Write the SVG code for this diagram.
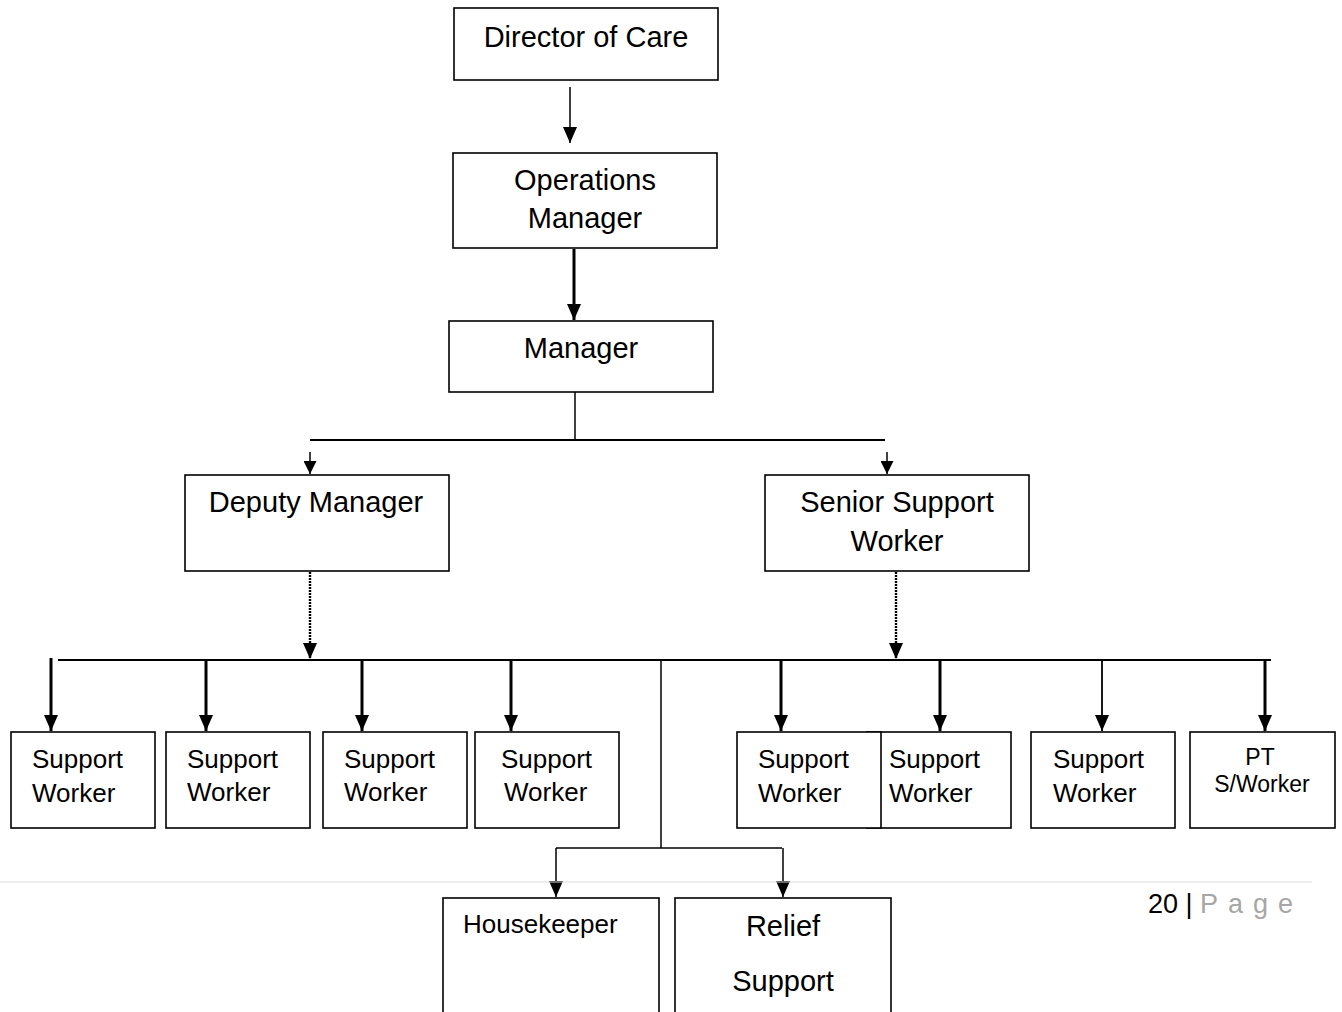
<svg xmlns="http://www.w3.org/2000/svg" width="1342" height="1012" viewBox="0 0 1342 1012">
<defs>
<style>
.box{fill:#fff;stroke:#000;stroke-width:1.6}
.t{font-family:"Liberation Sans",Arial,sans-serif;fill:#000}
.big{font-size:29px}
.sw{font-size:26px}
.c{stroke:#000;fill:none}
</style>
<marker id="ah" viewBox="0 0 16 14" refX="16" refY="7" markerWidth="16" markerHeight="14" markerUnits="userSpaceOnUse" orient="auto">
<path d="M0,0 L16,7 L0,14 z" fill="#000"/>
</marker>
<marker id="ahs" viewBox="0 0 13 13" refX="13" refY="6.5" markerWidth="13" markerHeight="13" markerUnits="userSpaceOnUse" orient="auto">
<path d="M0,0 L13,6.5 L0,13 z" fill="#000"/>
</marker>
</defs>
<rect width="1342" height="1012" fill="#fff"/>

<g id="connectors">
<line class="c" x1="570" y1="87" x2="570" y2="143" stroke-width="1.5" marker-end="url(#ah)"/>
<line class="c" x1="574" y1="249" x2="574" y2="320" stroke-width="3" marker-end="url(#ah)"/>
<line class="c" x1="575" y1="392" x2="575" y2="440" stroke-width="1.5"/>
<line class="c" x1="310" y1="440" x2="885" y2="440" stroke-width="2"/>
<line class="c" x1="310" y1="452" x2="310" y2="474" stroke-width="1.5" marker-end="url(#ahs)"/>
<line class="c" x1="887" y1="452" x2="887" y2="474" stroke-width="1.5" marker-end="url(#ahs)"/>
<line class="c" x1="310" y1="572" x2="310" y2="659" stroke-width="2.4" stroke-dasharray="2,1" marker-end="url(#ah)"/>
<line class="c" x1="896" y1="572" x2="896" y2="659" stroke-width="2.4" stroke-dasharray="2,1" marker-end="url(#ah)"/>
<line class="c" x1="58" y1="660" x2="1271" y2="660" stroke-width="2"/>
<line class="c" x1="51" y1="658" x2="51" y2="731" stroke-width="3" marker-end="url(#ah)"/>
<line class="c" x1="206" y1="660" x2="206" y2="731" stroke-width="3" marker-end="url(#ah)"/>
<line class="c" x1="362" y1="660" x2="362" y2="731" stroke-width="3" marker-end="url(#ah)"/>
<line class="c" x1="511" y1="660" x2="511" y2="731" stroke-width="3" marker-end="url(#ah)"/>
<line class="c" x1="781" y1="660" x2="781" y2="731" stroke-width="3" marker-end="url(#ah)"/>
<line class="c" x1="940" y1="660" x2="940" y2="731" stroke-width="3" marker-end="url(#ah)"/>
<line class="c" x1="1102" y1="660" x2="1102" y2="731" stroke-width="1.8" marker-end="url(#ah)"/>
<line class="c" x1="1265" y1="660" x2="1265" y2="731" stroke-width="3" marker-end="url(#ah)"/>
<line class="c" x1="661" y1="660" x2="661" y2="848" stroke-width="1.5"/>
<line class="c" x1="556" y1="848" x2="782" y2="848" stroke-width="1.5"/>
<line class="c" x1="556" y1="848" x2="556" y2="897" stroke-width="1.5" marker-end="url(#ah)"/>
<line class="c" x1="783" y1="848" x2="783" y2="897" stroke-width="1.5" marker-end="url(#ah)"/>
</g>

<line x1="0" y1="882" x2="1312" y2="882" stroke="#d9d9d9" stroke-width="1"/>

<g id="director">
<rect class="box" x="454" y="8" width="264" height="72"/>
<text class="t big" x="586" y="47" text-anchor="middle">Director of Care</text>
</g>
<g id="ops">
<rect class="box" x="453" y="153" width="264" height="95"/>
<text class="t big" x="585" y="190" text-anchor="middle">Operations</text>
<text class="t big" x="585" y="228" text-anchor="middle">Manager</text>
</g>
<g id="manager">
<rect class="box" x="449" y="321" width="264" height="71"/>
<text class="t big" x="581" y="358" text-anchor="middle">Manager</text>
</g>
<g id="deputy">
<rect class="box" x="185" y="475" width="264" height="96"/>
<text class="t big" x="316" y="512" text-anchor="middle">Deputy Manager</text>
</g>
<g id="senior">
<rect class="box" x="765" y="475" width="264" height="96"/>
<text class="t big" x="897" y="512" text-anchor="middle">Senior Support</text>
<text class="t big" x="897" y="551" text-anchor="middle">Worker</text>
</g>

<g id="sw1">
<rect class="box" x="11" y="732" width="144" height="96"/>
<text class="t sw" x="32" y="768">Support</text>
<text class="t sw" x="32" y="802">Worker</text>
</g>
<g id="sw2">
<rect class="box" x="166" y="732" width="144" height="96"/>
<text class="t sw" x="187" y="768">Support</text>
<text class="t sw" x="187" y="801">Worker</text>
</g>
<g id="sw3">
<rect class="box" x="323" y="732" width="144" height="96"/>
<text class="t sw" x="344" y="768">Support</text>
<text class="t sw" x="344" y="801">Worker</text>
</g>
<g id="sw4">
<rect class="box" x="475" y="732" width="144" height="96"/>
<text class="t sw" x="501" y="768">Support</text>
<text class="t sw" x="504" y="801">Worker</text>
</g>
<g id="sw6">
<rect class="box" x="867" y="732" width="144" height="96"/>
<text class="t sw" x="889" y="768">Support</text>
<text class="t sw" x="889" y="802">Worker</text>
</g>
<g id="sw5">
<rect class="box" x="737" y="732" width="144" height="96"/>
<text class="t sw" x="758" y="768">Support</text>
<text class="t sw" x="758" y="802">Worker</text>
</g>
<g id="sw7">
<rect class="box" x="1031" y="732" width="144" height="96"/>
<text class="t sw" x="1053" y="768">Support</text>
<text class="t sw" x="1053" y="802">Worker</text>
</g>
<g id="pt">
<rect class="box" x="1190" y="732" width="145" height="96"/>
<text class="t" font-size="23" x="1260" y="765" text-anchor="middle">PT</text>
<text class="t" font-size="23" x="1262" y="792" text-anchor="middle">S/Worker</text>
</g>

<g id="housekeeper">
<rect class="box" x="443" y="898" width="216" height="130"/>
<text class="t sw" x="463" y="933">Housekeeper</text>
</g>
<g id="relief">
<rect class="box" x="675" y="898" width="216" height="130"/>
<text class="t big" x="783" y="936" text-anchor="middle">Relief</text>
<text class="t big" x="783" y="991" text-anchor="middle">Support</text>
</g>

<text class="t" font-size="27" x="1148" y="913">20 | <tspan fill="#a6a6a6" letter-spacing="10">Page</tspan></text>
</svg>
